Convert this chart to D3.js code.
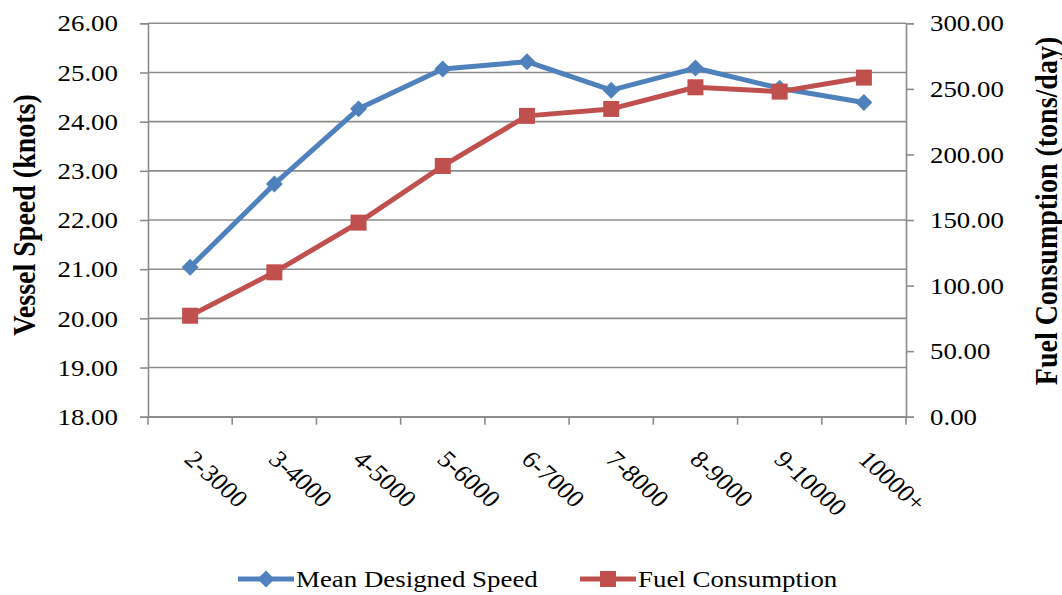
<!DOCTYPE html>
<html>
<head>
<meta charset="utf-8">
<script src="https://cdn.jsdelivr.net/npm/d3@7"></script>
<style>
  html, body { margin: 0; padding: 0; background: #fff; }
  svg { display: block; }
  text { font-family: "Liberation Serif", "Times New Roman", serif; fill: #000; }
</style>
</head>
<body>
<svg id="chart" width="1062" height="595"></svg>
<script>
// Vessel size classes (TEU) and the two measured series
const categories = ["2-3000", "3-4000", "4-5000", "5-6000", "6-7000", "7-8000", "8-9000", "9-10000", "10000+"];
const meanSpeed = [21.04, 22.73, 24.26, 25.07, 25.22, 24.64, 25.09, 24.68, 24.39];
const fuelConsumption = [77.0, 110.1, 148.0, 191.2, 229.4, 234.7, 251.2, 247.9, 258.6];
const leftTicks = [18, 19, 20, 21, 22, 23, 24, 25, 26];
const rightTicks = [0, 50, 100, 150, 200, 250, 300];
const seriesNames = ["Mean Designed Speed", "Fuel Consumption"];

const svg = d3.select("#chart");
const m = { left: 148, right: 906, top: 23.3, bottom: 416.7 };
const gridColor = "#8c8c8c";
const blue = "#4F81BD", red = "#C0504D";
const sx = 1.12; // horizontal widening of the serif lettering

const x = d3.scaleBand().domain(categories).range([m.left, m.right]);
const yL = d3.scaleLinear().domain([18, 26]).range([m.bottom, m.top]);
const yR = d3.scaleLinear().domain([0, 300]).range([m.bottom, m.top]);

// Horizontal gridlines
svg.append("g").selectAll("line").data(leftTicks).join("line")
  .attr("x1", m.left).attr("x2", m.right)
  .attr("y1", d => yL(d)).attr("y2", d => yL(d))
  .attr("stroke", gridColor).attr("stroke-width", 1.6);

// Left axis
const axL = svg.append("g").attr("transform", `translate(${m.left},0)`)
  .call(d3.axisLeft(yL).tickValues(leftTicks).tickFormat(d3.format(".2f")).tickSizeOuter(0).tickSize(8).tickPadding(22));
// Right axis
const axR = svg.append("g").attr("transform", `translate(${m.right},0)`)
  .call(d3.axisRight(yR).tickValues(rightTicks).tickFormat(d3.format(".2f")).tickSizeOuter(0).tickSize(8).tickPadding(16));
// Bottom axis: ticks on band boundaries
const axB = svg.append("g").attr("transform", `translate(0,${m.bottom})`)
  .call(d3.axisBottom(x).tickSize(0).tickSizeOuter(0).tickFormat(""));
const boundaries = categories.map(c => x(c)).concat([m.right]);
axB.selectAll(".bt").data(boundaries).join("line").attr("class", "bt")
  .attr("x1", d => d).attr("x2", d => d).attr("y1", 0).attr("y2", 8)
  .attr("stroke", gridColor).attr("stroke-width", 1.6);

[axL, axR, axB].forEach(a => {
  a.selectAll(".domain").attr("stroke", gridColor).attr("stroke-width", 1.6);
  a.selectAll(".tick line").attr("stroke", gridColor).attr("stroke-width", 1.6);
  a.selectAll(".tick text").style("font-family", '"Liberation Serif", serif').style("font-size", "24px").attr("fill", "#000")
    .each(function () {
      // widen each label around its own anchor point
      const t = d3.select(this);
      const tx = +t.attr("x") || 0;
      t.attr("x", 0).attr("transform", `translate(${tx},0) scale(${sx},1)`);
    });
});

// Rotated category labels
svg.append("g").selectAll("text").data(categories).join("text")
  .attr("transform", d => `translate(${x(d) + x.bandwidth() / 2 - 7},${m.bottom + 44}) scale(${sx},1) rotate(45)`)
  .attr("text-anchor", "start")
  .style("font-size", "24px")
  .text(d => d);

// Axis titles
svg.append("text")
  .attr("transform", `translate(35,215) scale(${sx},1) rotate(-90)`)
  .attr("text-anchor", "middle").style("font-size", "28px").style("font-weight", "bold")
  .text("Vessel Speed (knots)");
svg.append("text")
  .attr("transform", `translate(1057,211) scale(${sx},1) rotate(-90)`)
  .attr("text-anchor", "middle").style("font-size", "28px").style("font-weight", "bold")
  .text("Fuel Consumption (tons/day)");

const cx = d => x(d) + x.bandwidth() / 2;

// Speed series (left axis)
const speedPts = categories.map((c, i) => [cx(c), yL(meanSpeed[i])]);
svg.append("path").attr("d", d3.line()(speedPts))
  .attr("fill", "none").attr("stroke", blue).attr("stroke-width", 5).attr("stroke-linejoin", "round");
svg.append("g").selectAll("path").data(speedPts).join("path")
  .attr("transform", d => `translate(${d[0]},${d[1]}) rotate(45)`)
  .attr("d", "M-6,-6H6V6H-6Z")
  .attr("fill", blue);

// Fuel series (right axis)
const fuelPts = categories.map((c, i) => [cx(c), yR(fuelConsumption[i])]);
svg.append("path").attr("d", d3.line()(fuelPts))
  .attr("fill", "none").attr("stroke", red).attr("stroke-width", 5).attr("stroke-linejoin", "round");
svg.append("g").selectAll("rect").data(fuelPts).join("rect")
  .attr("x", d => d[0] - 8).attr("y", d => d[1] - 8)
  .attr("width", 16).attr("height", 16)
  .attr("fill", red);

// Legend
const legY = 579;
const leg = svg.append("g");
const legItems = [
  { name: seriesNames[0], color: blue, x0: 238, x1: 294, mark: "diamond" },
  { name: seriesNames[1], color: red, x0: 580, x1: 636, mark: "square" }
];
legItems.forEach(it => {
  leg.append("line").attr("x1", it.x0).attr("x2", it.x1).attr("y1", legY).attr("y2", legY)
    .attr("stroke", it.color).attr("stroke-width", 5);
  const mc = (it.x0 + it.x1) / 2;
  if (it.mark === "diamond") {
    leg.append("path").attr("transform", `translate(${mc},${legY}) rotate(45)`)
      .attr("d", "M-6,-6H6V6H-6Z").attr("fill", it.color);
  } else {
    leg.append("rect").attr("x", mc - 8).attr("y", legY - 8).attr("width", 16).attr("height", 16).attr("fill", it.color);
  }
  leg.append("text").attr("transform", `translate(${it.x1 + 2},${legY + 8}) scale(${sx},1)`)
    .style("font-size", "24px").text(it.name);
});
</script>
</body>
</html>
